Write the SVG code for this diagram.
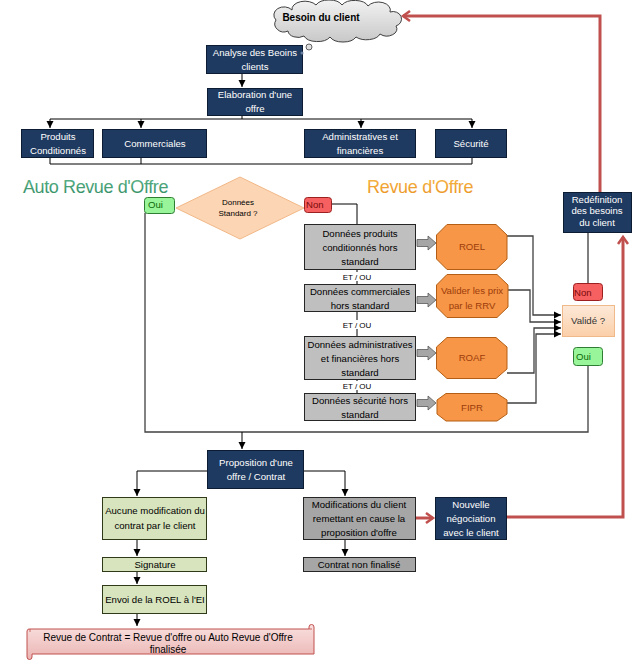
<svg xmlns="http://www.w3.org/2000/svg" width="640" height="667" viewBox="0 0 640 667">
<defs>
<linearGradient id="gCloud" x1="0" y1="0" x2="0" y2="1"><stop offset="0" stop-color="#f2f2f2"/><stop offset="1" stop-color="#c8c8c8"/></linearGradient>
<linearGradient id="gPeach" x1="0" y1="0" x2="0" y2="1"><stop offset="0" stop-color="#fde9d9"/><stop offset="1" stop-color="#fbcfa8"/></linearGradient>
<linearGradient id="gPink" x1="0" y1="0" x2="0" y2="1"><stop offset="0" stop-color="#f9e0df"/><stop offset="1" stop-color="#eab5b3"/></linearGradient>
<linearGradient id="gGreen" x1="0" y1="0" x2="0" y2="1"><stop offset="0" stop-color="#5fb58c"/><stop offset="1" stop-color="#2f8a60"/></linearGradient>
<linearGradient id="gOrange" x1="0" y1="0" x2="0" y2="1"><stop offset="0" stop-color="#f7b74a"/><stop offset="1" stop-color="#e8901c"/></linearGradient>
<marker id="ab" markerWidth="8" markerHeight="8" refX="7" refY="4" orient="auto" markerUnits="userSpaceOnUse"><path d="M0,0.5 L7,4 L0,7.5 Z" fill="#000"/></marker>
<marker id="ar" markerWidth="12" markerHeight="12" refX="9" refY="6" orient="auto" markerUnits="userSpaceOnUse"><path d="M2,1 L9,6 L2,11" fill="none" stroke="#c0504d" stroke-width="2.5"/></marker>
<g id="blk"><path d="M0,-3.5 L11,-3.5 L11,-7 L19,0 L11,7 L11,3.5 L0,3.5 Z" fill="#a6a6a6" stroke="#595959" stroke-width="0.8"/></g>
</defs>
<style>
text{font-family:"Liberation Sans",Arial,sans-serif;font-size:9.6px;text-anchor:middle}
.navy{fill:#1f3a60;stroke:#0c1c33;stroke-width:1}
.wt{fill:#fff}
.gray{fill:#bfbfbf;stroke:#262626;stroke-width:1}
.dgray{fill:#a6a6a6;stroke:#262626;stroke-width:1}
.green{fill:#d7e4bd;stroke:#2e3a18;stroke-width:1}
.oct{fill:#f79646;stroke:#b35e14;stroke-width:1}
.octt{fill:#9c3c0c}
.oui{fill:#99f599;stroke:#2e7d32;stroke-width:1}
.ouit{fill:#0a6a0a;text-anchor:start}
.non{fill:#f76060;stroke:#9b2020;stroke-width:1}
.nont{fill:#7a0a0a;text-anchor:start}
.ln{fill:none;stroke:#000;stroke-width:1}
.ln2{fill:none;stroke:#404040;stroke-width:1.3}
.red{fill:none;stroke:#c0504d;stroke-width:3}
</style>

<g id="connectors">
<path class="ln" d="M242,73 V87" marker-end="url(#ab)"/>
<path class="ln" d="M242,115 V119 M50,119 H472"/>
<path class="ln" d="M50,119 V128" marker-end="url(#ab)"/>
<path class="ln" d="M141,119 V128" marker-end="url(#ab)"/>
<path class="ln" d="M361,119 V128" marker-end="url(#ab)"/>
<path class="ln" d="M472,119 V128" marker-end="url(#ab)"/>
<path class="ln" d="M50,157 V164 H472 V157 M141,157 V164"/>
<path class="ln" d="M331,204 H357 V224"/>
<path class="ln" d="M357,269 V284 M357,311 V336 M357,379 V393"/>
<path class="ln2" d="M145,213 V432 H588 V365"/>
<path class="ln" d="M242,432 V449" marker-end="url(#ab)"/>
<path class="ln2" d="M507,236 H533 V315 H561" marker-end="url(#ab)"/>
<path class="ln2" d="M507,290 H530 V322 H561" marker-end="url(#ab)"/>
<path class="ln2" d="M507,373 H534 V328 H561" marker-end="url(#ab)"/>
<path class="ln2" d="M507,403 H536 V334 H561" marker-end="url(#ab)"/>
<path class="ln" d="M588,284 V232"/>
<path class="ln" d="M207,471 H137 V496" marker-end="url(#ab)"/>
<path class="ln" d="M303,471 H345 V496" marker-end="url(#ab)"/>
<path class="ln" d="M137,539 V556" marker-end="url(#ab)"/>
<path class="ln" d="M137,571 V584" marker-end="url(#ab)"/>
<path class="ln" d="M137,613 V626" marker-end="url(#ab)"/>
<path class="ln" d="M345,539 V556" marker-end="url(#ab)"/>
<path class="red" d="M600,192 V16 H403" marker-end="url(#ar)"/>
<path class="red" d="M416,518 H433" marker-end="url(#ar)"/>
<path class="red" d="M507,517 H623 V237" marker-end="url(#ar)"/>
<use href="#blk" x="417" y="243"/>
<use href="#blk" x="417" y="300"/>
<use href="#blk" x="417" y="353"/>
<use href="#blk" x="417" y="403"/>
</g>

<g id="besoin">
<path d="M288,31 A9,8 0 0 1 276,20 A10,8 0 0 1 292,10 A13,8 0 0 1 316,5 A14,8 0 0 1 342,5 A14,8 0 0 1 368,6 A12,8 0 0 1 390,12 A8,7 0 0 1 396,26 A10,7 0 0 1 380,34 A14,8 0 0 1 356,37 A14,8 0 0 1 330,37 A14,8 0 0 1 304,36 A10,7 0 0 1 288,31 Z" fill="url(#gCloud)" stroke="#404040" stroke-width="1"/>
<circle cx="309" cy="47" r="3" fill="#e0e0e0" stroke="#404040" stroke-width="0.8"/>
<text x="321" y="21" style="font-weight:bold;font-size:10px">Besoin du client</text>
</g>

<g id="analyse"><rect class="navy" x="206.5" y="45.5" width="96" height="28"/><text class="wt" x="255" y="56">Analyse des Beoins</text><text class="wt" x="255" y="70">clients</text><circle cx="302" cy="53" r="1.5" fill="#6a7fa0"/></g>
<g id="elaboration"><rect class="navy" x="207.5" y="88.5" width="95" height="27"/><text class="wt" x="255" y="98">Elaboration d'une</text><text class="wt" x="255" y="112">offre</text></g>
<g id="produits"><rect class="navy" x="21.5" y="129.5" width="72" height="28"/><text class="wt" x="58" y="140">Produits</text><text class="wt" x="58" y="154">Conditionnés</text></g>
<g id="commerciales"><rect class="navy" x="102.5" y="129.5" width="104" height="28"/><text class="wt" x="155" y="147">Commerciales</text></g>
<g id="administratives"><rect class="navy" x="304.5" y="129.5" width="111" height="28"/><text class="wt" x="360" y="140">Administratives et</text><text class="wt" x="360" y="154">financières</text></g>
<g id="securite"><rect class="navy" x="435.5" y="129.5" width="71" height="28"/><text class="wt" x="471" y="147">Sécurité</text></g>

<g id="titles">
<text x="23" y="193" style="font-size:18px;text-anchor:start;letter-spacing:-0.4px;fill:url(#gGreen)">Auto Revue d'Offre</text>
<text x="367" y="193" style="font-size:18px;text-anchor:start;letter-spacing:-0.3px;fill:url(#gOrange)">Revue d'Offre</text>
</g>

<g id="donnees-standard"><polygon points="176,208 240,177 304,208 240,239" fill="#fcd5b4" stroke="#f2b888" stroke-width="1"/><text x="238" y="205" style="font-size:8px">Données</text><text x="238" y="216" style="font-size:8px">Standard ?</text></g>
<g id="oui1"><rect class="oui" x="144.5" y="197.5" width="30" height="16" rx="3"/><text class="ouit" x="148" y="208">Oui</text></g>
<g id="non1"><rect class="non" x="304.5" y="197.5" width="27" height="15" rx="3"/><text class="nont" x="306" y="208">Non</text></g>

<g id="dp1"><rect class="gray" x="304.5" y="224.5" width="111" height="45"/><text x="360" y="237">Données produits</text><text x="360" y="251">conditionnés hors</text><text x="360" y="265">standard</text></g>
<g id="etou1"><rect x="340" y="272" width="34" height="9" fill="#fff"/><text x="357" y="280" style="font-size:8px">ET / OU</text></g>
<g id="dp2"><rect class="gray" x="304.5" y="284.5" width="111" height="27"/><text x="360" y="295">Données commerciales</text><text x="360" y="309">hors standard</text></g>
<g id="etou2"><rect x="340" y="320" width="34" height="9" fill="#fff"/><text x="357" y="328" style="font-size:8px">ET / OU</text></g>
<g id="dp3"><rect class="gray" x="304.5" y="336.5" width="111" height="43"/><text x="360" y="348">Données administratives</text><text x="360" y="362">et financières hors</text><text x="360" y="376">standard</text></g>
<g id="etou3"><rect x="340" y="381" width="34" height="9" fill="#fff"/><text x="357" y="389" style="font-size:8px">ET / OU</text></g>
<g id="dp4"><rect class="gray" x="304.5" y="393.5" width="111" height="27"/><text x="360" y="404">Données sécurité hors</text><text x="360" y="418">standard</text></g>

<g id="roel"><polygon class="oct" points="447,224.5 496,224.5 507,235 507,259 496,269.5 447,269.5 436.5,259 436.5,235"/><text class="octt" x="472" y="250">ROEL</text></g>
<g id="valider"><polygon class="oct" points="447,274.5 497,274.5 508,285 508,307 497,317.5 447,317.5 436.5,307 436.5,285"/><text class="octt" x="472" y="294">Valider les prix</text><text class="octt" x="472" y="309">par le RRV</text></g>
<g id="roaf"><polygon class="oct" points="447,337.5 496,337.5 507,347 507,369 496,378.5 447,378.5 436.5,369 436.5,347"/><text class="octt" x="472" y="361">ROAF</text></g>
<g id="fipr"><polygon class="oct" points="446,393.5 497,393.5 507,400 507,414 497,421 446,421 437,414 437,400"/><text class="octt" x="472" y="411">FIPR</text></g>

<g id="valide"><rect x="562.5" y="305.5" width="52" height="31" fill="url(#gPeach)" stroke="#f0b98a" stroke-width="1"/><text x="588" y="324" style="fill:#333">Validé ?</text></g>
<g id="non2"><rect class="non" x="573.5" y="283.5" width="29" height="17" rx="3"/><text class="nont" x="574" y="296">Non</text></g>
<g id="oui2"><rect class="oui" x="573.5" y="347.5" width="29" height="18" rx="3"/><text class="ouit" x="576" y="360">Oui</text></g>
<g id="redefinition"><rect class="navy" x="563.5" y="192.5" width="68" height="40"/><text class="wt" x="597" y="203">Redéfinition</text><text class="wt" x="597" y="214">des besoins</text><text class="wt" x="597" y="226">du client</text></g>

<g id="proposition"><rect class="navy" x="207.5" y="450.5" width="96" height="38"/><text class="wt" x="256" y="466">Proposition d'une</text><text class="wt" x="256" y="480">offre / Contrat</text></g>
<g id="aucune"><rect class="green" x="102.5" y="497.5" width="104" height="42"/><text x="155" y="514">Aucune modification du</text><text x="155" y="529">contrat par le client</text></g>
<g id="signature"><rect class="green" x="102.5" y="557.5" width="104" height="14"/><text x="155" y="568">Signature</text></g>
<g id="envoi"><rect class="green" x="102.5" y="585.5" width="104" height="28"/><text x="155" y="603">Envoi de la ROEL à l'EI</text></g>
<g id="modifications"><rect class="dgray" x="303.5" y="497.5" width="112" height="42"/><text x="359" y="508">Modifications du client</text><text x="359" y="522">remettant en cause la</text><text x="359" y="536">proposition d'offre</text></g>
<g id="contrat-non-finalise"><rect class="dgray" x="303.5" y="557.5" width="112" height="14"/><text x="359" y="568">Contrat non finalisé</text></g>
<g id="nouvelle"><rect class="navy" x="435.5" y="497.5" width="71" height="42"/><text class="wt" x="471" y="508">Nouvelle</text><text class="wt" x="471" y="522">négociation</text><text class="wt" x="471" y="536">avec le client</text></g>

<g id="revue-contrat">
<path d="M30,629 H309 V627 A2.5,2.5 0 0 1 314,627 V654 H32 V657 A2.5,2.5 0 0 1 27,657 V631 A2.5,2.5 0 0 1 30,629 Z" fill="url(#gPink)" stroke="#c0504d" stroke-width="1"/>
<path d="M309,629 H312 M30,629 V632" fill="none" stroke="#c0504d" stroke-width="0.8"/>
<text x="168" y="641" style="font-size:10px">Revue de Contrat = Revue d'offre ou  Auto Revue d'Offre</text>
<text x="168" y="653" style="font-size:10px">finalisée</text>
</g>
</svg>
